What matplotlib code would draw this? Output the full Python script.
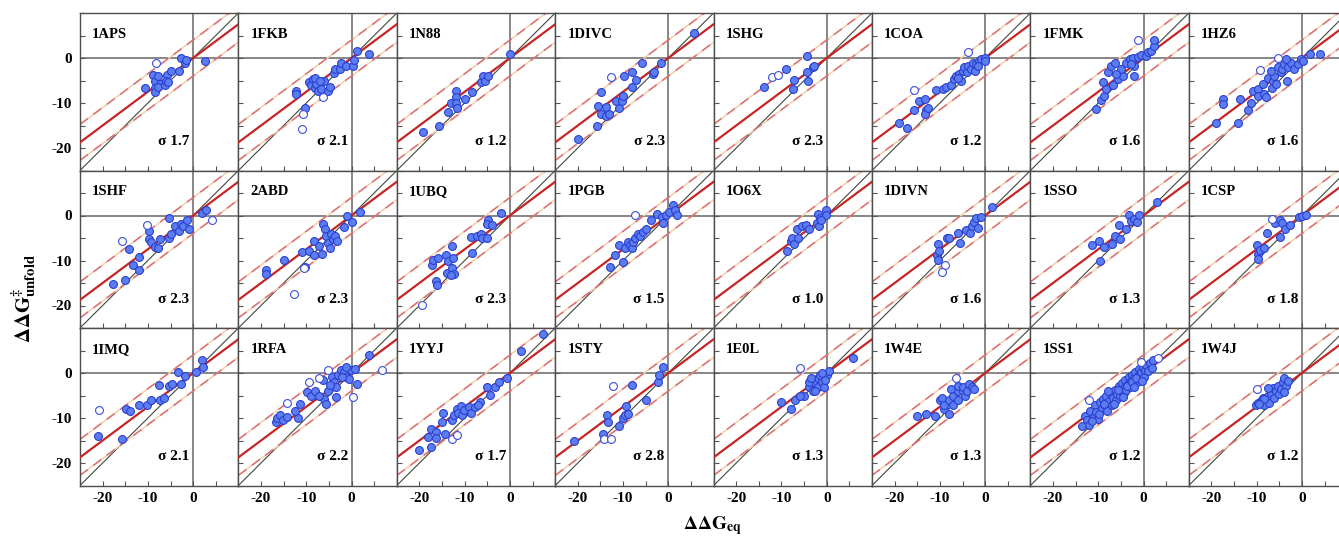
import matplotlib.pyplot as plt
from matplotlib.ticker import MultipleLocator
import numpy as np

plt.rcParams['font.family'] = ['Liberation Serif', 'DejaVu Serif']
plt.rcParams['mathtext.fontset'] = 'stix'
plt.rcParams['axes.unicode_minus'] = False

names = ["1APS", "1FKB", "1N88", "1DIVC", "1SHG", "1COA", "1FMK", "1HZ6",
         "1SHF", "2ABD", "1UBQ", "1PGB", "1O6X", "1DIVN", "1SSO", "1CSP",
         "1IMQ", "1RFA", "1YYJ", "1STY", "1E0L", "1W4E", "1SS1", "1W4J"]
sigmas = [1.7, 2.1, 1.2, 2.3, 2.3, 1.2, 1.6, 1.6,
          2.3, 2.3, 2.3, 1.5, 1.0, 1.6, 1.3, 1.8,
          2.1, 2.2, 1.7, 2.8, 1.3, 1.3, 1.2, 1.2]

# fitted line (slope) and dashed band half width
fit_slope = 0.75
band = 4.0

# (ddG_eq, ddG_unfold) per protein, filled = used, open = excluded
aps_fill = [(-10.7, -6.7), (-8.9, -3.7), (-8.5, -5.0), (-8.4, -6.7), (-8.4, -7.6), (-7.8, -3.9),
            (-7.4, -5.8), (-7.8, -6.5), (-6.3, -6.1), (-5.7, -3.7), (-5.9, -5.0), (-5.0, -2.8),
            (-5.6, -5.4), (-3.1, -2.8), (-2.6, 0.1), (-1.7, -1.0), (-1.5, -0.4), (2.6, -0.6)]
aps_open = [(-8.3, -1.1)]

fkb_fill = [(-12.2, -7.4), (-12.2, -7.9), (-10.2, -11.1), (-9.5, -5.4), (-9.0, -6.1), (-8.5, -4.7),
            (-8.1, -6.7), (-7.8, -5.8), (-7.4, -7.3), (-6.7, -6.9), (-6.1, -5.0), (-5.3, -7.4),
            (-4.8, -6.5), (-3.9, -3.4), (-3.6, -2.4), (-2.6, -2.4), (-2.4, -1.0), (-1.3, -1.7),
            (0.4, -1.7), (0.6, -0.4), (1.1, 1.5), (3.9, 0.9), (-8.1, -4.4), (-7.0, -5.0)]
fkb_open = [(-10.7, -12.4), (-11.0, -15.8), (-6.3, -8.6)]

n88_fill = [(-19.3, -16.5), (-15.6, -15.0), (-13.6, -12.1), (-13.0, -10.1), (-11.9, -7.3),
            (-11.9, -8.7), (-11.9, -9.9), (-11.6, -11.0), (-10.0, -9.1), (-8.3, -7.6),
            (-6.5, -5.4), (-6.0, -3.9), (-5.6, -5.0), (-4.8, -3.9), (0.1, 0.9)]
n88_open = []

divc_fill = [(-19.9, -18.0), (-15.8, -15.0), (-14.9, -7.6), (-15.5, -10.6), (-14.9, -12.4),
             (-13.8, -12.8), (-13.1, -12.4), (-13.8, -10.8), (-11.6, -9.5), (-10.9, -11.0),
             (-10.3, -9.5), (-10.1, -8.4), (-9.7, -4.1), (-8.1, -6.4), (-8.1, -3.0), (-7.2, -4.9),
             (-5.9, -1.0), (-3.4, -3.6), (-3.2, -3.2), (-1.6, -1.0), (5.6, 5.5)]
divc_open = [(-12.6, -4.3)]

shg_fill = [(-13.9, -6.4), (-8.9, -2.4), (-7.2, -4.9), (-7.5, -6.9), (-4.4, 0.5), (-4.4, -3.0),
            (-3.1, -2.1), (-4.2, -5.0), (-2.9, -1.7)]
shg_open = [(-12.0, -4.3), (-10.7, -3.7)]

coa_fill = [(-19.0, -14.5), (-17.3, -15.6), (-15.8, -11.6), (-14.6, -9.5), (-13.3, -9.0),
            (-13.1, -11.6), (-13.3, -12.4), (-12.6, -11.0), (-10.9, -7.1), (-9.4, -6.9),
            (-8.7, -6.5), (-7.6, -6.1), (-6.8, -4.7), (-6.4, -3.9), (-5.7, -3.6), (-5.3, -5.0),
            (-4.9, -2.8), (-4.6, -2.1), (-4.0, -3.2), (-3.7, -1.7), (-3.1, -2.4), (-2.7, -1.0),
            (-2.2, -2.8), (-2.0, -1.3), (-1.3, -0.6), (-0.9, -0.2), (-0.1, 0.1), (0.0, -0.7),
            (-1.6, -1.7), (-6.1, -4.4)]
coa_open = [(-15.8, -7.1), (-3.7, 1.3)]

fmk_fill = [(-10.5, -11.3), (-9.3, -9.3), (-8.7, -8.4), (-8.9, -5.4), (-8.3, -6.9), (-7.9, -3.0),
            (-7.2, -1.7), (-6.4, -1.0), (-6.8, -6.1), (-5.7, -4.7), (-4.6, -3.9), (-5.0, -2.4),
            (-3.9, -1.0), (-3.1, -0.2), (-2.4, 0.1), (-2.0, -3.9), (-2.0, -1.7), (-1.3, 0.3),
            (-0.5, 0.7), (0.6, 0.5), (1.0, 1.3), (1.6, 1.6), (2.3, 2.7), (2.4, 3.9), (-2.7, -1.3),
            (-6.0, -3.6)]
fmk_open = [(-1.3, 3.9)]

hz6_fill = [(-19.1, -14.5), (-17.4, -9.1), (-17.4, -10.2), (-14.1, -14.5), (-13.7, -9.1),
            (-12.0, -11.6), (-11.2, -10.1), (-10.9, -7.3), (-9.7, -6.9), (-9.8, -8.4), (-8.7, -5.8),
            (-8.3, -8.0), (-8.0, -8.7), (-7.6, -4.4), (-6.7, -6.7), (-6.5, -5.0), (-6.1, -4.1),
            (-5.7, -5.8), (-5.4, -2.1), (-4.6, -3.2), (-4.3, -2.4), (-3.9, -1.3), (-3.3, -5.0),
            (-3.0, -1.9), (-2.4, -1.0), (-1.7, -2.4), (-0.9, -1.3), (-0.2, -0.2), (0.2, -0.6),
            (1.7, 0.9), (4.1, 1.0), (-6.8, -2.8), (-3.5, -0.2)]
hz6_open = [(-9.2, -2.7), (-5.4, 0.0)]

shf_fill = [(-17.6, -15.2), (-15.0, -14.4), (-14.1, -7.5), (-13.3, -11.0), (-12.0, -9.2),
            (-11.9, -12.0), (-9.8, -3.5), (-9.8, -5.3), (-9.4, -5.9), (-8.4, -7.0), (-7.7, -7.3),
            (-7.4, -5.3), (-5.3, -5.0), (-5.3, -0.5), (-5.0, -4.1), (-3.9, -2.4), (-3.1, -3.5),
            (-2.7, -1.9), (-2.2, -2.4), (-1.3, -0.9), (-0.9, -3.1), (1.9, 0.6), (2.8, 1.3)]
shf_open = [(-15.7, -5.7), (-10.2, -2.1), (4.1, -1.1)]

abd_fill = [(-19.0, -12.0), (-18.9, -13.0), (-15.0, -9.8), (-11.0, -8.1), (-10.3, -11.5),
            (-9.4, -7.9), (-8.3, -8.8), (-8.3, -5.6), (-6.6, -8.5), (-6.4, -1.9), (-5.9, -3.1),
            (-5.7, -4.6), (-5.3, -6.1), (-4.8, -7.2), (-4.6, -4.1), (-4.2, -5.3), (-3.6, -4.6),
            (-3.3, -5.6), (-1.6, -2.6), (-1.1, -0.1), (0.1, -1.4), (1.9, 0.8), (-7.2, -6.8)]
abd_open = [(-10.5, -11.6), (-12.7, -17.4)]

ubq_fill = [(-17.2, -10.9), (-17.0, -9.8), (-15.9, -9.4), (-16.3, -14.6), (-16.1, -15.5),
            (-14.1, -8.8), (-13.7, -10.1), (-13.9, -12.7), (-12.9, -6.8), (-12.5, -9.4),
            (-12.7, -11.6), (-12.3, -13.1), (-13.0, -13.3), (-8.5, -4.8), (-8.3, -8.3),
            (-7.2, -4.6), (-6.4, -4.2), (-6.1, -5.1), (-5.0, -5.0), (-4.9, -0.9), (-5.0, -1.9),
            (-3.9, -2.1), (-2.0, 0.6)]
ubq_open = [(-19.4, -19.8)]

pgb_fill = [(-12.9, -11.5), (-11.7, -8.8), (-10.9, -6.6), (-10.0, -10.3), (-9.6, -7.2),
            (-9.0, -5.9), (-8.5, -6.6), (-8.0, -7.2), (-7.7, -5.9), (-7.4, -5.0), (-6.8, -4.1),
            (-6.3, -4.6), (-5.7, -3.6), (-5.0, -2.9), (-3.8, -1.1), (-2.6, 0.4), (-1.5, -0.4),
            (-1.1, -1.6), (-0.6, 0.2), (0.2, 0.8), (1.1, 2.3), (1.5, 1.3), (1.9, 0.2)]
pgb_open = [(-7.4, 0.1)]

o6x_fill = [(-8.8, -7.8), (-7.9, -5.7), (-7.6, -5.1), (-7.2, -6.4), (-6.6, -2.9), (-6.3, -5.0),
            (-5.5, -2.4), (-4.6, -2.1), (-3.9, -2.9), (-2.1, -1.6), (-2.0, 0.4), (-1.6, -0.5),
            (-1.8, -2.4), (-0.1, 1.3), (-0.1, 0.2), (-1.2, -1.1)]
o6x_open = []

divn_fill = [(-10.7, -8.8), (-10.5, -6.4), (-10.1, -7.9), (-10.4, -9.8), (-8.4, -5.1), (-7.9, -5.1),
             (-6.0, -3.9), (-5.6, -6.1), (-4.2, -3.3), (-3.3, -3.9), (-2.9, -2.4), (-2.4, -1.4),
             (-2.0, -0.5), (-0.9, -0.4), (1.5, 1.9), (-1.6, -2.7)]
divn_open = [(-8.9, -10.9), (-9.6, -12.5)]

sso_fill = [(-11.4, -6.6), (-9.9, -5.7), (-8.8, -7.0), (-9.7, -10.0), (-7.0, -6.3), (-6.2, -4.6),
            (-5.1, -5.3), (-5.5, -2.1), (-3.8, -2.9), (-3.3, 0.2), (-2.8, -1.3), (-2.2, -0.7),
            (-1.4, -1.4), (-1.1, 0.2), (2.9, 3.0)]
sso_open = []

csp_fill = [(-10.0, -6.6), (-9.6, -8.5), (-9.6, -9.6), (-9.2, -7.6), (-8.3, -7.3), (-7.7, -3.9),
            (-5.9, -1.6), (-4.8, -0.9), (-4.4, -1.6), (-4.8, -4.8), (-3.7, -3.1), (-2.6, -2.0),
            (-0.7, -0.4), (0.0, -0.1), (0.8, 0.2)]
csp_open = [(-6.6, -0.7)]

imq_fill = [(-21.0, -14.0), (-15.7, -14.6), (-14.8, -8.1), (-13.9, -8.5), (-12.0, -7.0),
            (-10.1, -7.0), (-9.4, -6.1), (-7.6, -2.6), (-7.4, -5.9), (-6.4, -5.6), (-5.3, -2.9),
            (-4.6, -2.4), (-3.3, 0.2), (-2.7, -2.4), (-1.8, -0.7), (0.6, 0.2), (1.9, 3.0), (2.2, 1.3)]
imq_open = [(-20.7, -8.3)]

rfa_fill = [(-16.8, -10.9), (-16.4, -10.1), (-15.7, -9.4), (-15.2, -10.5), (-14.2, -9.8),
            (-12.5, -8.5), (-11.8, -10.1), (-11.3, -6.8), (-9.8, -4.2), (-9.0, -5.1), (-8.1, -4.1),
            (-6.1, -5.7), (-5.7, -6.8), (-5.3, -3.9), (-6.4, -1.6), (-4.4, -0.9), (-3.9, -2.0),
            (-3.4, -3.1), (-2.9, -0.5), (-2.4, 0.6), (-1.6, 0.2), (-1.3, -0.9), (-0.5, -1.4),
            (-0.1, 0.6), (0.8, 1.0), (1.1, -2.4), (-3.5, -5.3), (-2.0, -0.9), (-1.3, 1.3),
            (3.9, 3.9), (-7.3, -5.0), (-4.8, -2.7)]
rfa_open = [(-14.2, -6.6), (-9.4, -2.1), (-7.3, -1.1), (-5.1, 0.6), (0.4, -5.3), (6.7, 0.6)]

yyj_fill = [(-20.0, -17.2), (-17.5, -16.4), (-18.1, -14.2), (-17.4, -12.5), (-16.3, -13.0),
            (-16.3, -14.4), (-15.1, -10.9), (-14.8, -8.8), (-14.3, -13.5), (-12.9, -10.5),
            (-12.4, -9.4), (-11.8, -8.1), (-11.4, -8.8), (-10.8, -7.3), (-10.7, -9.4), (-10.1, -8.3),
            (-9.1, -7.6), (-8.5, -8.8), (-7.7, -7.6), (-6.6, -6.4), (-5.1, -3.1), (-4.4, -4.8),
            (-3.3, -3.1), (-2.5, -2.1), (-0.7, -1.1), (2.5, 5.0), (7.4, 8.7), (-7.0, -7.2)]
yyj_open = [(-12.9, -14.6), (-11.8, -13.7)]

sty_fill = [(-20.9, -15.0), (-14.4, -13.5), (-13.6, -9.4), (-13.3, -10.9), (-10.9, -11.8),
            (-10.0, -10.0), (-9.6, -9.4), (-9.4, -7.3), (-9.0, -9.1), (-8.0, -2.6), (-5.0, -5.9),
            (-2.2, -2.1), (-2.0, -0.4), (-1.1, 1.3)]
sty_open = [(-12.2, -2.9), (-14.2, -14.6), (-12.7, -14.6)]

e0l_fill = [(-10.0, -6.5), (-8.0, -8.0), (-7.0, -6.0), (-5.0, -5.0), (-4.0, -3.0), (-3.0, -4.0),
            (-3.0, -2.0), (-2.0, -1.0), (-2.0, -3.0), (-1.0, -1.0), (-1.0, -2.0), (0.0, -0.5),
            (0.5, 0.5), (-0.5, -3.0), (-1.5, -0.5), (5.7, 3.3), (-4.0, -2.0), (-2.5, -4.0),
            (-6.0, -5.0), (-1.0, 0.0), (-3.5, -1.2), (-0.3, -1.5)]
e0l_open = [(-5.9, 1.1)]

w4e_fill = [(-15.0, -9.5), (-13.0, -9.0), (-11.0, -9.5), (-10.0, -6.0), (-9.5, -5.5), (-9.0, -8.0),
            (-9.0, -7.0), (-8.0, -6.0), (-8.0, -9.0), (-7.5, -3.5), (-7.0, -5.0), (-7.0, -7.0),
            (-6.0, -4.0), (-6.0, -6.0), (-6.0, -2.8), (-5.0, -4.0), (-5.0, -3.0), (-4.5, -5.0),
            (-4.0, -4.0), (-3.5, -2.5), (-3.0, -3.0), (-2.5, -3.5)]
w4e_open = [(-6.5, -1.2)]

ss1_fill = [(-13.5, -11.8), (-13.0, -9.5), (-12.5, -10.5), (-12.0, -11.6), (-11.8, -8.5),
            (-11.0, -9.8), (-10.8, -7.2), (-10.5, -8.6), (-10.0, -10.2), (-9.6, -6.5),
            (-9.2, -8.0), (-9.0, -5.8), (-8.6, -7.2), (-8.2, -5.0), (-8.0, -8.5), (-7.6, -6.2),
            (-7.2, -4.6), (-7.0, -7.0), (-6.8, -5.5), (-6.4, -3.8), (-6.0, -6.0), (-5.8, -4.6),
            (-5.5, -2.8), (-5.2, -5.2), (-5.0, -3.6), (-4.7, -2.2), (-4.4, -4.4), (-4.2, -3.0),
            (-4.0, -1.5), (-3.8, -3.8), (-3.5, -2.4), (-3.2, -0.8), (-3.0, -3.2), (-2.8, -1.8),
            (-2.5, -0.4), (-2.3, -2.6), (-2.0, -1.2), (-1.8, 0.2), (-1.5, -2.0), (-1.3, -0.6),
            (-1.0, 0.8), (-0.8, -1.4), (-0.5, 0.2), (-0.2, 1.2), (0.0, -0.8), (0.3, 0.6),
            (0.6, 1.8), (1.0, 0.4), (1.4, 2.2), (1.8, 1.2), (2.2, 2.8), (-9.8, -9.0),
            (-8.8, -6.8), (-6.6, -6.8), (-5.6, -3.8), (-3.6, -2.8), (-2.6, -2.0), (-1.6, -1.0),
            (-11.4, -10.6), (-7.8, -4.0), (-4.6, -5.4), (-2.0, -3.2), (-0.4, -1.8)]
ss1_open = [(-12.0, -6.0), (3.3, 3.3), (-0.6, 2.5)]

w4j_fill = [(-10.1, -7.1), (-9.8, -6.6), (-9.0, -6.2), (-8.7, -5.5), (-8.3, -7.0), (-7.6, -5.1),
            (-7.2, -6.6), (-6.8, -4.4), (-6.4, -3.3), (-6.1, -5.5), (-5.7, -4.0), (-5.3, -2.9),
            (-5.0, -4.7), (-4.6, -3.6), (-4.2, -2.1), (-3.9, -1.0), (-3.5, -2.9), (-4.0, -4.3),
            (-3.1, -1.8), (-7.6, -3.3), (-8.3, -5.8), (-9.4, -6.8)]
w4j_open = [(-9.9, -3.6)]

filled_sets = [aps_fill, fkb_fill, n88_fill, divc_fill, shg_fill, coa_fill, fmk_fill, hz6_fill,
               shf_fill, abd_fill, ubq_fill, pgb_fill, o6x_fill, divn_fill, sso_fill, csp_fill,
               imq_fill, rfa_fill, yyj_fill, sty_fill, e0l_fill, w4e_fill, ss1_fill, w4j_fill]
open_sets = [aps_open, fkb_open, n88_open, divc_open, shg_open, coa_open, fmk_open, hz6_open,
             shf_open, abd_open, ubq_open, pgb_open, o6x_open, divn_open, sso_open, csp_open,
             imq_open, rfa_open, yyj_open, sty_open, e0l_open, w4e_open, ss1_open, w4j_open]

W, H = 1339, 542
fig = plt.figure(figsize=(W / 100, H / 100), dpi=100)

x0_px, y0_px = 80, 13
pw, ph = 158.4, 157.5
lims = (-25, 10)
xx = np.array(lims)

for i, name in enumerate(names):
    r, c = divmod(i, 8)
    left = (x0_px + c * pw) / W
    bottom = 1 - (y0_px + (r + 1) * ph) / H
    ax = fig.add_axes([left, bottom, pw / W, ph / H])
    ax.set_xlim(lims)
    ax.set_ylim(lims)

    ax.axhline(0, color='#666666', lw=1.1, zorder=1)
    ax.axvline(0, color='#666666', lw=1.1, zorder=1)
    ax.plot(xx, xx, color='#3c4a3c', lw=0.8, zorder=2)
    for off in (band, -band):
        ax.plot(xx, fit_slope * xx + off, color='#dd7070', lw=1.2, ls=(0, (6, 4)),
                gapcolor='#f3d2b0', zorder=2)
    ax.plot(xx, fit_slope * xx, color='#c82424', lw=1.6, zorder=3)

    f = np.array(filled_sets[i])
    if len(f):
        ax.scatter(f[:, 0], f[:, 1], s=32, facecolor='#5b7df0', edgecolor='#2a3fd0',
                   linewidth=0.8, zorder=4)
    o = np.array(open_sets[i])
    if len(o):
        ax.scatter(o[:, 0], o[:, 1], s=32, facecolor='white', edgecolor='#3a4fe0',
                   linewidth=0.8, zorder=4)

    ax.text(-22.3, 5.3, name, fontsize=10.5, fontweight='bold', va='center', ha='left')
    ax.text(-0.8, -18.6, "\u03c3 %.1f" % sigmas[i], fontsize=11, fontweight='bold',
            va='center', ha='right')

    for sp in ax.spines.values():
        sp.set_color('#4d4d4d')
        sp.set_linewidth(1.0)
    ax.xaxis.set_minor_locator(MultipleLocator(5))
    ax.yaxis.set_minor_locator(MultipleLocator(5))
    ax.tick_params(which='both', direction='in', length=3.5, width=0.8, color='#555555',
                   top=False, right=False)
    ax.set_xticks([-20, -10, 0])
    ax.set_yticks([-20, -10, 0])
    if c == 0:
        ax.set_yticklabels(['-20', '-10', '0'], fontsize=11, fontweight='bold')
        ax.tick_params(axis='y', pad=6)
    else:
        ax.set_yticklabels([])
    if r == 2:
        ax.set_xticklabels(['-20', '-10', '0'], fontsize=11, fontweight='bold')
        ax.tick_params(axis='x', pad=5)
    else:
        ax.set_xticklabels([])

fig.text(0.018, 0.45, r'$\mathbf{\Delta\Delta G}^{\mathbf{\ddag}}_{\mathbf{unfold}}$',
         rotation=90, fontsize=15, ha='center', va='center')
fig.text(0.532, 0.03, r'$\mathbf{\Delta\Delta G_{eq}}$', fontsize=14,
         ha='center', va='center')

fig.savefig('out.png', dpi=100)
